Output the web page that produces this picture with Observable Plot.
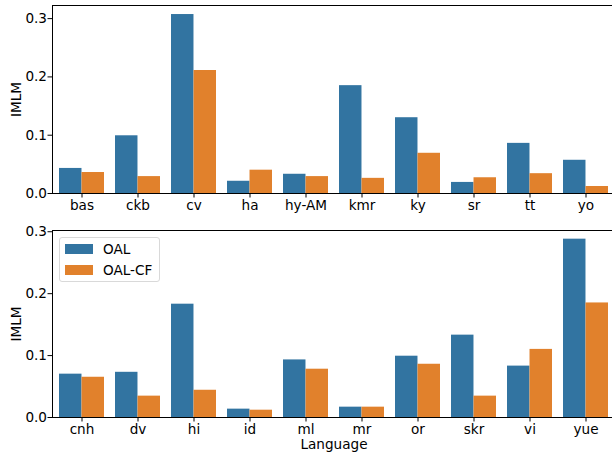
<!DOCTYPE html>
<html>
<head>
<meta charset="utf-8">
<script src="https://cdn.jsdelivr.net/npm/d3@7"></script>
<script src="https://cdn.jsdelivr.net/npm/@observablehq/plot@0.6"></script>
<style>
  html, body { margin: 0; padding: 0; background: #fff; }
  #wrap { position: relative; width: 612px; height: 454px; overflow: hidden; font-family: "DejaVu Sans", sans-serif; }
  #wrap svg { display: block; }
  .legend { position: absolute; left: 59px; top: 237px; width: 101px; height: 45px; box-sizing: border-box;
            border: 1px solid #d9d9d9; border-radius: 3px; background: rgba(255,255,255,0.8); }
  .legend .item { position: absolute; left: 5px; height: 10px; }
  .legend .sw { position: absolute; left: 0; top: 0; width: 28px; height: 9.5px; }
  .legend .lb { position: absolute; left: 38px; top: -3px; font-size: 13.6px; line-height: 16px; white-space: nowrap; color: #000; }
</style>
</head>
<body>
<div id="wrap"></div>
<script>
const seriesNames = ["OAL", "OAL-CF"];
const seriesColors = ["#3274a1", "#e1812c"];

const topLangs = ["bas", "ckb", "cv", "ha", "hy-AM", "kmr", "ky", "sr", "tt", "yo"];
const topOAL   = [0.043, 0.099, 0.307, 0.021, 0.033, 0.185, 0.130, 0.019, 0.086, 0.057];
const topOALCF = [0.036, 0.029, 0.211, 0.040, 0.029, 0.026, 0.069, 0.027, 0.034, 0.012];

const botLangs = ["cnh", "dv", "hi", "id", "ml", "mr", "or", "skr", "vi", "yue"];
const botOAL   = [0.070, 0.073, 0.183, 0.0135, 0.093, 0.0167, 0.099, 0.133, 0.083, 0.288];
const botOALCF = [0.065, 0.0345, 0.044, 0.0118, 0.078, 0.0167, 0.086, 0.0345, 0.110, 0.185];

const yTicks = [0, 0.1, 0.2, 0.3];
const yLabel = "IMLM";
const xLabel = "Language";

const W = 612, ML = 52, MR = -3, FS = 13.6;

function panel(langs, oal, cf, opts) {
  const rowsA = langs.map((l, i) => ({lang: l, value: oal[i]}));
  const rowsB = langs.map((l, i) => ({lang: l, value: cf[i]}));
  const bw = (W - ML - MR) / langs.length * 0.8;
  return Plot.plot({
    width: W,
    height: opts.height,
    marginLeft: ML,
    marginRight: MR,
    marginTop: opts.marginTop,
    marginBottom: opts.marginBottom,
    style: {fontFamily: "DejaVu Sans, sans-serif", fontSize: FS + "px", color: "#000", background: "#fff"},
    x: {domain: langs, paddingInner: 0.2, paddingOuter: 0.1},
    y: {domain: [0, opts.yMax]},
    marks: [
      Plot.barY(rowsA, {x: "lang", y: "value", fill: seriesColors[0], insetLeft: 0, insetRight: bw / 2}),
      Plot.barY(rowsB, {x: "lang", y: "value", fill: seriesColors[1], insetLeft: bw / 2, insetRight: 0}),
      Plot.frame({stroke: "#000", strokeWidth: 1}),
      Plot.axisY({ticks: yTicks, tickFormat: d3.format(".1f"), tickSize: 4.5, tickPadding: 1,
                  label: yLabel, labelAnchor: "center", labelArrow: "none", labelOffset: 41, fontSize: FS}),
      Plot.axisX({tickSize: 4.5, tickPadding: 2, fontSize: FS,
                  label: opts.xLabel, labelAnchor: "center", labelArrow: "none", labelOffset: 31})
    ]
  });
}

const wrap = document.getElementById("wrap");
wrap.appendChild(panel(topLangs, topOAL, topOALCF, {height: 215, marginTop: 5, marginBottom: 22, yMax: 0.3225, xLabel: null}));
wrap.appendChild(panel(botLangs, botOAL, botOALCF, {height: 239, marginTop: 15, marginBottom: 37, yMax: 0.302, xLabel: xLabel}));

const legend = document.createElement("div");
legend.className = "legend";
seriesNames.forEach((name, i) => {
  const item = document.createElement("div");
  item.className = "item";
  item.style.top = (6 + i * 21) + "px";
  const sw = document.createElement("div");
  sw.className = "sw";
  sw.style.background = seriesColors[i];
  const lb = document.createElement("div");
  lb.className = "lb";
  lb.textContent = name;
  item.appendChild(sw);
  item.appendChild(lb);
  legend.appendChild(item);
});
wrap.appendChild(legend);
</script>
</body>
</html>
